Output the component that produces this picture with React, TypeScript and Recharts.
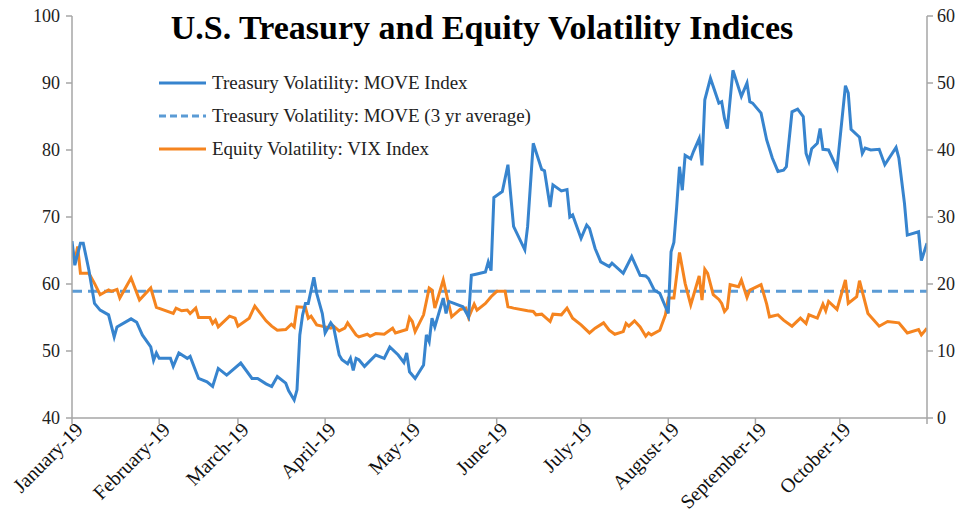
import React from 'react';
import { LineChart, Line, XAxis, YAxis } from 'recharts';

// day of year (0 = 1 Jan 2019), MOVE index level
const moveIndex: [number, number][] = [
  [0, 66.4], [1, 62.8], [3, 66.1], [4, 66.1], [6, 62.1], [8, 57.1], [10, 56.1], [13, 55.4],
  [15, 52.1], [16, 53.6], [21, 54.8], [23, 54.3], [25, 52.4], [28, 50.6], [29, 48.6], [30, 49.7],
  [31, 48.9], [35, 48.9], [36, 47.7], [38, 49.7], [41, 48.9], [42, 49.2], [45, 45.9], [48, 45.4],
  [50, 44.7], [52, 47.4], [55, 46.4], [60, 48.2], [64, 45.9], [66, 45.9], [69, 45.1], [71, 44.7],
  [73, 46.2], [76, 45.2], [77, 44.1], [79, 42.7], [80, 44.2], [81, 52.4], [82, 55.4], [83, 57.1],
  [84, 57.1], [86, 61.0], [87, 58.6], [89, 55.6], [90, 52.7], [92, 54.2], [93, 53.6], [95, 49.4],
  [96, 48.7], [98, 48.1], [99, 48.9], [100, 47.1], [101, 48.9], [102, 48.7], [104, 47.7],
  [108, 49.4], [111, 48.9], [113, 50.6], [116, 49.4], [118, 48.3], [119, 49.7], [120, 46.9],
  [122, 45.9], [125, 47.9], [126, 52.4], [127, 51.4], [128, 54.9], [129, 53.6], [132, 57.9],
  [133, 55.6], [134, 57.4], [139, 56.6], [141, 55.1], [142, 61.3], [144, 61.5], [147, 61.8],
  [148, 63.3], [149, 62.0], [150, 72.9], [152, 73.5], [153, 73.8], [155, 77.8], [157, 68.6],
  [161, 65.1], [162, 68.6], [164, 81.0], [167, 77.1], [168, 76.9], [170, 71.5], [171, 74.8],
  [174, 73.9], [176, 74.1], [177, 70.0], [178, 70.3], [181, 66.8], [183, 68.8], [184, 68.3],
  [186, 65.3], [188, 63.3], [191, 62.6], [192, 63.1], [196, 61.6], [199, 64.1], [202, 61.3],
  [204, 61.2], [205, 60.8], [207, 59.1], [209, 58.6], [211, 56.6], [212, 55.6], [213, 64.8],
  [214, 66.2], [215, 71.5], [216, 77.5], [217, 74.0], [218, 79.2], [220, 78.7], [221, 79.8],
  [223, 81.7], [224, 77.7], [225, 87.5], [227, 90.7], [230, 87.0], [231, 87.2], [232, 84.7],
  [233, 83.2], [235, 91.9], [238, 88.0], [240, 90.0], [241, 87.2], [242, 87.0], [245, 85.5],
  [247, 81.5], [249, 78.8], [251, 76.8], [253, 77.0], [254, 77.5], [256, 85.7], [258, 86.1],
  [260, 85.0], [261, 79.5], [262, 78.3], [263, 80.2], [265, 81.0], [266, 83.2], [267, 80.1],
  [269, 80.0], [272, 77.3], [275, 89.6], [276, 88.5], [277, 83.1], [280, 81.9], [281, 79.5],
  [282, 80.3], [284, 80.0], [287, 80.1], [289, 77.8], [293, 80.4], [294, 78.8], [296, 72.0],
  [297, 67.3], [301, 67.8], [302, 63.5], [304, 66.1],
];

// day of year, VIX index level (right axis)
const vixIndex: [number, number][] = [
  [0, 25.6], [1, 23.3], [2, 25.6], [3, 21.6], [6, 21.6], [8, 20.1], [10, 18.4], [13, 19.1],
  [14, 18.9], [16, 19.2], [17, 17.9], [21, 20.9], [24, 17.6], [28, 19.4], [30, 16.5], [36, 15.6],
  [37, 16.4], [39, 16.0], [41, 16.1], [42, 15.6], [44, 16.4], [45, 15.0], [49, 15.0], [50, 14.1],
  [51, 14.6], [52, 13.6], [56, 15.2], [58, 14.9], [59, 13.7], [63, 14.9], [65, 16.7], [69, 14.5],
  [71, 13.7], [73, 13.1], [76, 13.2], [78, 14.0], [79, 13.6], [80, 16.6], [83, 16.5], [84, 14.9],
  [85, 15.2], [87, 13.9], [90, 13.6], [92, 13.4], [93, 13.7], [95, 13.0], [97, 13.4], [98, 14.2],
  [101, 12.4], [102, 12.1], [105, 12.5], [106, 12.2], [108, 12.6], [111, 12.5], [114, 13.4],
  [115, 12.7], [119, 13.2], [120, 15.0], [121, 14.4], [122, 12.9], [125, 15.4], [127, 19.4],
  [128, 19.1], [129, 16.4], [132, 20.6], [134, 16.9], [135, 15.1], [138, 16.2], [140, 16.4],
  [141, 15.0], [143, 17.0], [144, 16.1], [147, 17.1], [149, 18.1], [151, 18.9], [154, 18.9],
  [155, 16.6], [157, 16.4], [162, 16.0], [164, 15.9], [165, 15.4], [167, 15.5], [170, 14.4],
  [171, 15.5], [174, 15.4], [176, 16.4], [178, 14.9], [181, 13.9], [184, 12.7], [186, 13.4],
  [189, 14.2], [191, 13.1], [193, 12.5], [196, 12.9], [197, 14.1], [198, 13.7], [200, 14.5],
  [202, 13.6], [204, 12.2], [205, 12.7], [206, 12.4], [209, 13.1], [211, 15.4], [212, 17.9],
  [214, 17.9], [216, 24.7], [218, 20.1], [220, 16.9], [223, 21.2], [224, 17.6], [225, 22.2],
  [226, 21.6], [228, 18.4], [230, 17.7], [231, 17.1], [232, 15.9], [233, 16.4], [234, 19.9],
  [237, 19.6], [238, 20.6], [240, 18.0], [241, 19.1], [245, 19.9], [247, 17.0], [248, 15.1],
  [251, 15.4], [253, 14.6], [256, 13.7], [259, 14.9], [261, 14.1], [262, 15.4], [265, 14.9],
  [267, 17.0], [268, 16.0], [269, 17.4], [272, 16.2], [275, 20.6], [276, 17.1], [279, 18.1],
  [280, 20.5], [283, 15.6], [287, 13.7], [290, 14.4], [294, 14.2], [295, 13.7], [297, 12.7],
  [301, 13.2], [302, 12.4], [304, 13.4],
];

// 3 year average of MOVE, drawn across the whole period
const moveAverage = 58.9;
const periodDays = [0, 304];

const monthStarts = [0, 31, 59, 90, 120, 151, 181, 212, 243, 273, 304];
const monthLabels = [
  'January-19', 'February-19', 'March-19', 'April-19', 'May-19', 'June-19',
  'July-19', 'August-19', 'September-19', 'October-19', '',
];
const leftTicks = [40, 50, 60, 70, 80, 90, 100];
const rightTicks = [0, 10, 20, 30, 40, 50, 60];

const moveData = moveIndex.map(([day, value]) => ({ day, value }));
const vixData = vixIndex.map(([day, value]) => ({ day, value }));
const averageData = periodDays.map((day) => ({ day, value: moveAverage }));

const BLUE = '#3784CE';
const LIGHT_BLUE = '#5B9BD5';
const ORANGE = '#F5841F';
const FONT = '"Liberation Serif", serif';

const legendItems = [
  { label: 'Treasury Volatility: MOVE Index', color: BLUE, dash: undefined },
  { label: 'Treasury Volatility: MOVE (3 yr average)', color: LIGHT_BLUE, dash: '7 4' },
  { label: 'Equity Volatility: VIX Index', color: ORANGE, dash: undefined },
];

const MonthTick = ({ x, y, payload }: any) => {
  const idx = monthStarts.indexOf(payload.value);
  return (
    <g transform={`translate(${x},${y})`}>
      <text x={5} y={12} textAnchor="end" transform="rotate(-45)" fill="#111" fontSize={20} fontFamily={FONT}>
        {monthLabels[idx]}
      </text>
    </g>
  );
};

export default function App() {
  return (
    <div style={{ position: 'absolute', left: 0, top: 0, width: 964, height: 518, background: '#fff' }}>
      <div
        style={{
          position: 'absolute', left: 0, width: 964, top: 9, textAlign: 'center',
          fontFamily: FONT, fontWeight: 700, fontSize: 34, color: '#000', zIndex: 2,
        }}
      >
        U.S. Treasury and Equity Volatility Indices
      </div>
      <div style={{ position: 'absolute', left: 159, top: 66, fontFamily: FONT, fontSize: 19, color: '#222', zIndex: 2 }}>
        {legendItems.map((it) => (
          <div key={it.label} style={{ display: 'flex', alignItems: 'center', height: 33 }}>
            <svg width={50} height={6} style={{ marginRight: 3 }}>
              <line x1={0} y1={3} x2={47} y2={3} stroke={it.color} strokeWidth={3} strokeDasharray={it.dash} />
            </svg>
            <span>{it.label}</span>
          </div>
        ))}
      </div>
      <LineChart width={964} height={518} margin={{ top: 16, right: 7, bottom: 10, left: 32 }}>
        <XAxis
          type="number"
          dataKey="day"
          domain={[0, 304]}
          ticks={monthStarts}
          interval={0}
          tick={<MonthTick />}
          tickSize={6}
          height={90}
          stroke="#A6A6A6"
          strokeWidth={1.5}
          allowDataOverflow
        />
        <YAxis
          yAxisId="left"
          domain={[40, 100]}
          ticks={leftTicks}
          width={40}
          tickSize={6}
          tickMargin={6}
          stroke="#A6A6A6"
          strokeWidth={1.5}
          tick={{ fill: '#222', fontSize: 18, fontFamily: FONT }}
        />
        <YAxis
          yAxisId="right"
          orientation="right"
          domain={[0, 60]}
          ticks={rightTicks}
          width={30}
          tickSize={6}
          tickMargin={4}
          stroke="#A6A6A6"
          strokeWidth={1.5}
          tick={{ fill: '#222', fontSize: 18, fontFamily: FONT }}
        />
        <Line
          yAxisId="left"
          data={averageData}
          dataKey="value"
          name="Treasury Volatility: MOVE (3 yr average)"
          stroke={LIGHT_BLUE}
          strokeWidth={3}
          strokeDasharray="10 6"
          dot={false}
          isAnimationActive={false}
        />
        <Line
          yAxisId="right"
          data={vixData}
          dataKey="value"
          name="Equity Volatility: VIX Index"
          stroke={ORANGE}
          strokeWidth={3}
          dot={false}
          isAnimationActive={false}
        />
        <Line
          yAxisId="left"
          data={moveData}
          dataKey="value"
          name="Treasury Volatility: MOVE Index"
          stroke={BLUE}
          strokeWidth={3}
          dot={false}
          isAnimationActive={false}
        />
      </LineChart>
    </div>
  );
}
